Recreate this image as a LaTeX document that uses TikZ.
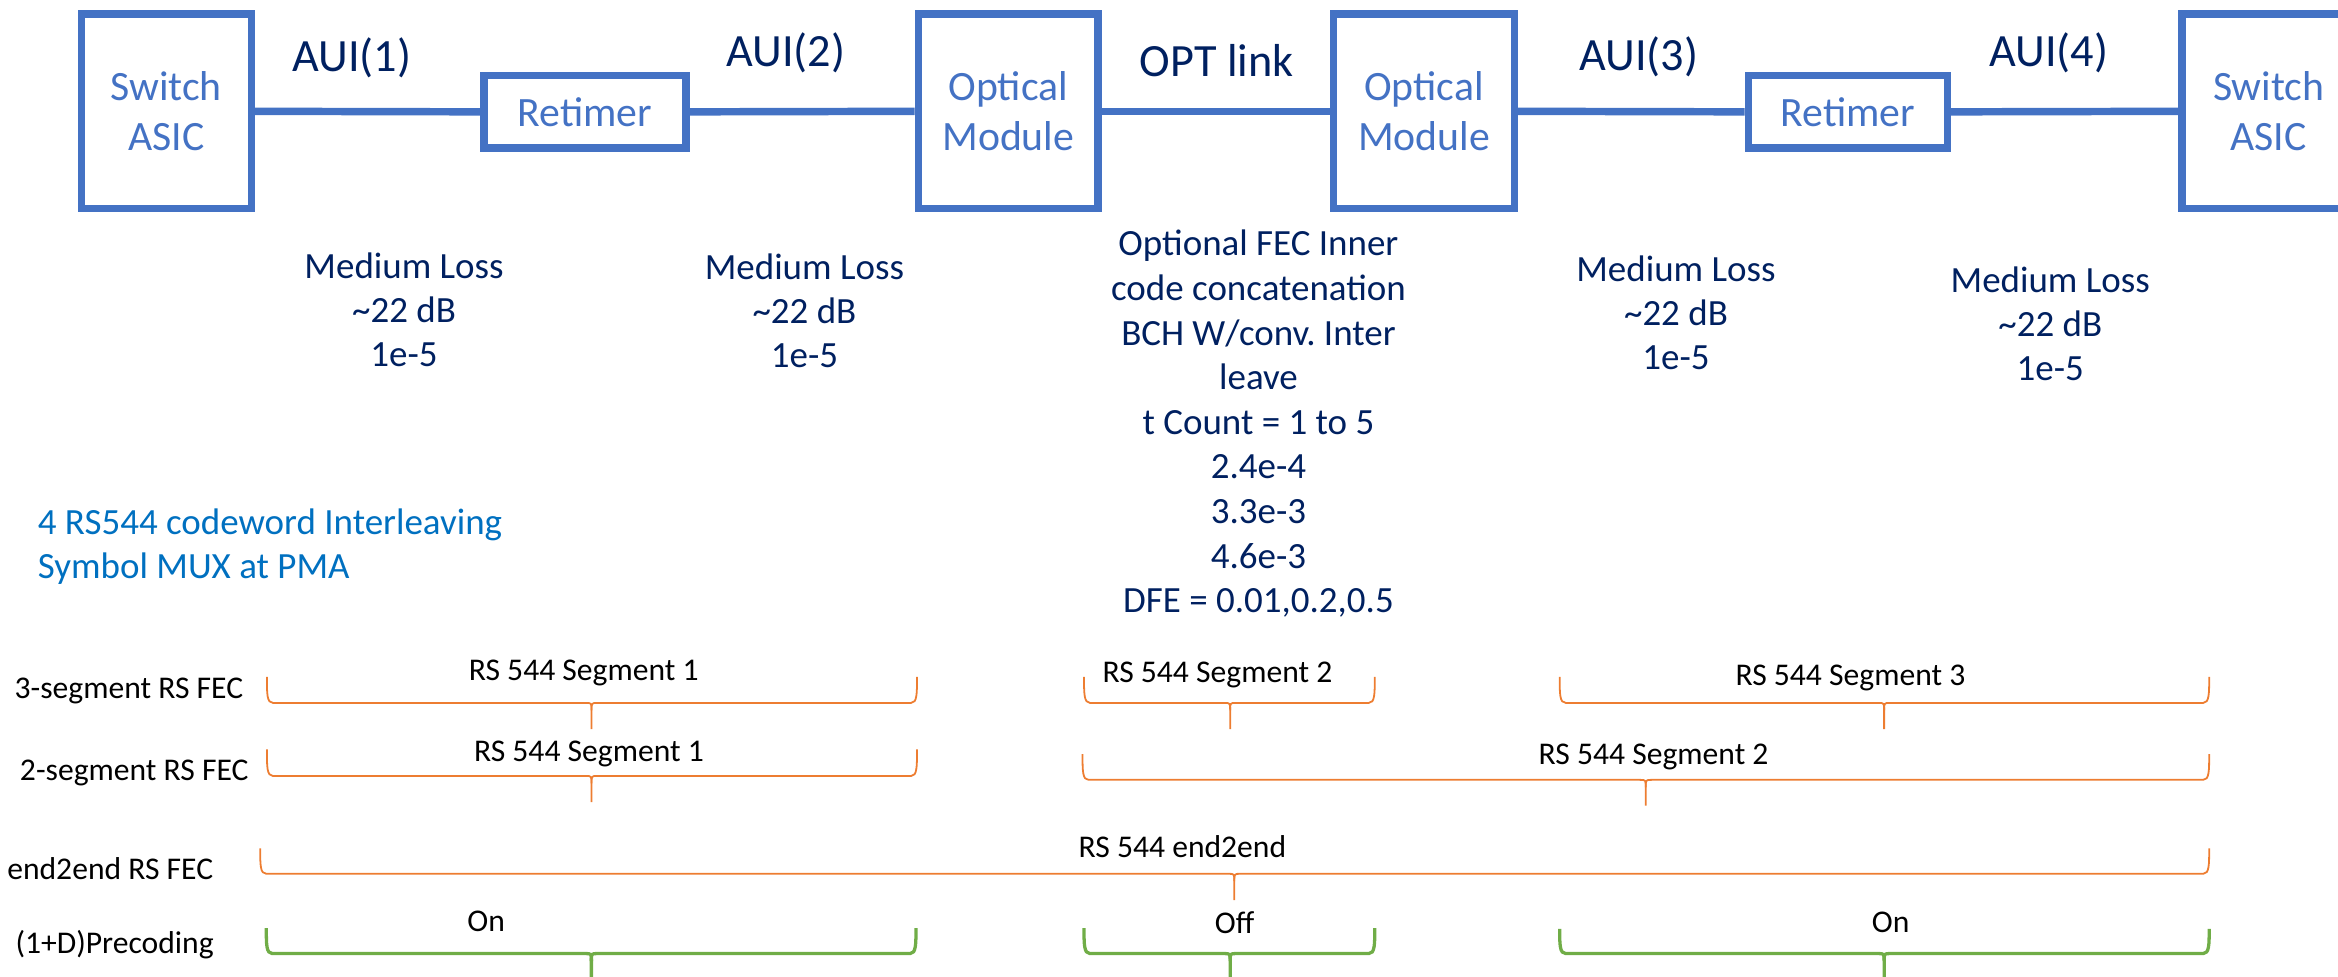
\documentclass[tikz,border=0pt]{standalone}
\usepackage{fontspec}
\setmainfont{Carlito}
\frenchspacing
\definecolor{boxblue}{HTML}{4472C4}
\definecolor{navy}{HTML}{002060}
\definecolor{bluetxt}{HTML}{0070C0}
\definecolor{fecorange}{HTML}{ED7D31}
\definecolor{precgreen}{HTML}{70AD47}
% #1 style, #2 x left, #3 x tip, #4 x right, #5 y top, #6 y line, #7 y tip
\newcommand{\fecbrace}[7]{%
  \draw[#1] (#2,#5) .. controls (#2,#6-6) and (#2,#6) .. (#2+4,#6) -- (#3-4,#6)
     .. controls (#3,#6) .. (#3,#6+5) -- (#3,#7);
  \draw[#1] (#3,#6+5) .. controls (#3,#6) .. (#3+4,#6) -- (#4-4,#6)
     .. controls (#4,#6) and (#4,#6-6) .. (#4,#5);}
\begin{document}
\frenchspacing
\begin{tikzpicture}[x=0.5pt,y=-0.5pt,
  blk/.style={draw=boxblue, line width=2.5pt, inner sep=0pt, text=boxblue,
    font=\fontsize{14}{16.7}\selectfont, align=center},
  wire/.style={draw=boxblue, line width=2.5pt},
  aui/.style={text=navy, font=\fontsize{15.5}{18}\selectfont, inner sep=0pt, anchor=base},
  note/.style={text=navy, font=\fontsize{12.4}{14.8}\selectfont, align=center, inner sep=0pt},
  rowlbl/.style={font=\fontsize{10.6}{12.7}\selectfont, inner sep=0pt, anchor=base west},
  seglbl/.style={font=\fontsize{10.6}{12.7}\selectfont, inner sep=0pt, anchor=base},
  obrace/.style={draw=fecorange, line width=0.6pt},
  gbrace/.style={draw=precgreen, line width=1.1pt}]
\useasboundingbox (0,0) rectangle (1568,655);
\clip (0,0) rectangle (1568,655);

% top chain
\node[blk, minimum width=57pt, minimum height=65.35pt] (sw1) at (111.5,74.65) {Switch\\ASIC};
\node[blk, minimum width=67.7pt, minimum height=24.35pt] (rt1) at (392.3,75) {Retimer};
\node[blk, minimum width=60.25pt, minimum height=65.35pt] (om1) at (676.2,74.65) {Optical\\Module};
\node[blk, minimum width=60.6pt, minimum height=65.35pt] (om2) at (955,74.65) {Optical\\Module};
\node[blk, minimum width=66.75pt, minimum height=24.35pt] (rt2) at (1239.3,75) {Retimer};
\node[blk, minimum width=58pt, minimum height=65.35pt] (sw2) at (1521.5,74.65) {Switch\\ASIC};
\draw[wire] (sw1.east) -- (rt1.west);
\draw[wire] (rt1.east) -- (om1.west);
\draw[wire] (om1.east) -- (om2.west);
\draw[wire] (om2.east) -- (rt2.west);
\draw[wire] (rt2.east) -- (sw2.west);

\node[aui] (a1) at (236,48) {AUI(1)};
\node[aui] (a2) at (527,44.7) {AUI(2)};
\node[aui] (opt) at (816,51.4) {OPT link};
\node[aui] (a3) at (1099,47) {AUI(3)};
\node[aui] (a4) at (1374,44.7) {AUI(4)};

% notes
\node[note] (ml1) at (271,207.6) {Medium Loss\\\textasciitilde22 dB\\1e-5};
\node[note] (ml2) at (539.5,208.5) {Medium Loss\\\textasciitilde22 dB\\1e-5};
\node[note] (ml3) at (1124,209.7) {Medium Loss\\\textasciitilde22 dB\\1e-5};
\node[note] (ml4) at (1375,217) {Medium Loss\\\textasciitilde22 dB\\1e-5};
\node[note, font=\fontsize{12.4}{14.95}\selectfont] (fec) at (844,284.2)
  {Optional FEC Inner\\code concatenation\\BCH W/conv. Inter\\leave\\t Count = 1 to 5\\2.4e-4\\3.3e-3\\4.6e-3\\DFE = 0.01,0.2,0.5};
\node[note, text=bluetxt, align=left, anchor=west, font=\fontsize{12.4}{14.75}\selectfont] (mux) at (25,366.9)
  {4 RS544 codeword Interleaving\\Symbol MUX at PMA};

% row labels
\node[rowlbl] (r1) at (9.4,468.4) {3-segment RS FEC};
\node[rowlbl] (r2) at (13,523.6) {2-segment RS FEC};
\node[rowlbl] (r3) at (4.5,589.6) {end2end RS FEC};
\node[rowlbl] (r4) at (10,639.4) {(1+D)Precoding};

% braces row 1
\fecbrace{obrace}{179}{396.7}{615}{454}{471.4}{489}
\fecbrace{obrace}{727}{825}{922}{454}{471.4}{489}
\fecbrace{obrace}{1046}{1263.6}{1481.6}{454}{471.4}{489}
\node[seglbl] (s11) at (391.5,456.5) {RS 544 Segment 1};
\node[seglbl] (s12) at (816.5,457.9) {RS 544 Segment 2};
\node[seglbl] (s13) at (1241,459.4) {RS 544 Segment 3};
% row 2
\fecbrace{obrace}{179}{396.7}{615}{502.6}{520.4}{538}
\fecbrace{obrace}{726}{1103.7}{1481.6}{505.7}{523}{540.3}
\node[seglbl] (s21) at (395,510.8) {RS 544 Segment 1};
\node[seglbl] (s22) at (1109,512.6) {RS 544 Segment 2};
% row 3
\fecbrace{obrace}{174.5}{827.8}{1481.6}{569}{586}{603.6}
\node[seglbl] (s31) at (793,575.2) {RS 544 end2end};
% row 4
\fecbrace{gbrace}{178.6}{396.6}{614.3}{622.5}{639.5}{660}
\fecbrace{gbrace}{727}{825}{922}{622.5}{639.5}{660}
\fecbrace{gbrace}{1046}{1263.6}{1481.6}{623}{639.5}{660}
\node[seglbl] (p1) at (326,624.8) {On};
\node[seglbl] (p2) at (828,626) {Off};
\node[seglbl] (p3) at (1268,625.5) {On};
\end{tikzpicture}
\end{document}
